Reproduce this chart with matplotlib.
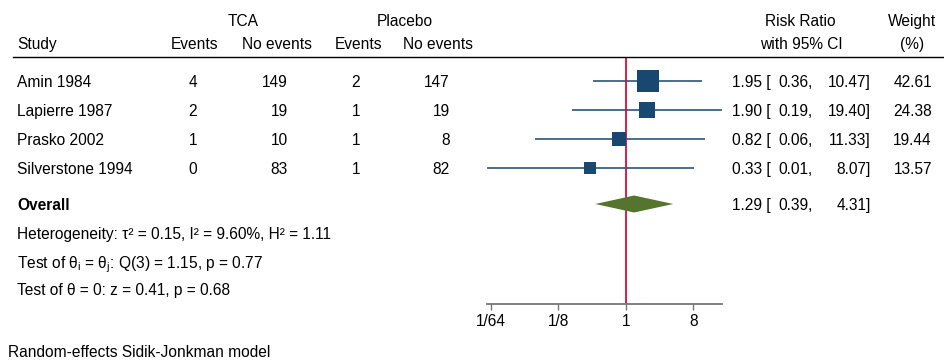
import matplotlib
matplotlib.use("Agg")
import matplotlib.pyplot as plt
from matplotlib.ticker import FixedLocator, FixedFormatter, NullLocator

plt.rcParams['font.family'] = ['Liberation Sans', 'DejaVu Sans']
plt.rcParams['mathtext.fontset'] = 'custom'
plt.rcParams['mathtext.rm'] = 'Liberation Sans'
plt.rcParams['mathtext.it'] = 'Liberation Sans'
plt.rcParams['mathtext.default'] = 'regular'

# ---------------- data ----------------
studies = ["Amin 1984", "Lapierre 1987", "Prasko 2002", "Silverstone 1994"]
tca_events = [4, 2, 1, 0]
tca_noevents = [149, 19, 10, 83]
pla_events = [2, 1, 1, 1]
pla_noevents = [147, 19, 8, 82]
rr = [1.95, 1.90, 0.82, 0.33]
ci_low = [0.36, 0.19, 0.06, 0.0138]
ci_high = [10.47, 19.40, 11.33, 8.07]
weights = [42.61, 24.38, 19.44, 13.57]
overall_rr = 1.29
overall_low = 0.39
overall_high = 4.31
tick_values = [1/64, 1/8, 1, 8]
tick_labels = ["1/64", "1/8", "1", "8"]
het_text = "Heterogeneity: τ² = 0.15, I² = 9.60%, H² = 1.11"
test1_text = r"Test of θ$_{i}$ = θ$_{j}$: Q(3) = 1.15, p = 0.77"
test2_text = "Test of θ = 0: z = 0.41, p = 0.68"
footer = "Random-effects Sidik-Jonkman model"

# ---------------- layout ----------------
W, H = 945, 361
fig = plt.figure(figsize=(W / 100, H / 100), dpi=100)
fig.patch.set_facecolor("white")

def fx(x):
    return x / W

def fy(y):
    return 1 - y / H

FS = 11.2
NAVY = "#1a476f"
GREEN = "#55752f"
RED = "#d0103a"

def txt(x, y, s, ha="left", **kw):
    fig.text(fx(x), fy(y), s, ha=ha, va="center_baseline", fontsize=FS, color="black", **kw)

# row pixel positions
row_y = [81, 110, 139, 168]
overall_y = 204
het_y = [233, 261, 289]

# headers
txt(243, 20, "TCA", ha="center")
txt(405, 20, "Placebo", ha="center")
txt(800, 20, "Risk Ratio", ha="center")
txt(912, 20, "Weight", ha="center")
txt(17, 43, "Study")
txt(195, 43, "Events", ha="center")
txt(312, 43, "No events", ha="right")
txt(358, 43, "Events", ha="center")
txt(473, 43, "No events", ha="right")
txt(801, 43, "with 95% CI", ha="center")
txt(912, 43, "(%)", ha="center")

# header rule
fig.add_artist(plt.Line2D([fx(13), fx(945)], [fy(57), fy(57)], color="black", lw=1.0))

# study rows
for i, name in enumerate(studies):
    y = row_y[i]
    txt(17, y, name)
    txt(193, y, str(tca_events[i]), ha="center")
    txt(288, y, str(tca_noevents[i]), ha="right")
    txt(356, y, str(pla_events[i]), ha="center")
    txt(450, y, str(pla_noevents[i]), ha="right")
    txt(732, y, f"{rr[i]:.2f} [")
    txt(813, y, f"{ci_low[i]:.2f},", ha="right")
    txt(871, y, f"{ci_high[i]:.2f}]", ha="right")
    txt(932, y, f"{weights[i]:.2f}", ha="right")

txt(17, overall_y, "Overall", fontweight="bold")
txt(732, overall_y, f"{overall_rr:.2f} [")
txt(813, overall_y, f"{overall_low:.2f},", ha="right")
txt(871, overall_y, f"{overall_high:.2f}]", ha="right")

txt(17, het_y[0], het_text)
txt(17, het_y[1], test1_text)
txt(17, het_y[2], test2_text)
txt(8, 351, footer)

# ---------------- forest axes ----------------
ax_left, ax_right = 487, 722
ax_top, ax_bot = 57, 304
ax = fig.add_axes([fx(ax_left), fy(ax_bot), fx(ax_right - ax_left), (ax_bot - ax_top) / H])
ax.set_xscale("log", base=2)
ax.set_xlim(min(ci_low), max(ci_high))
# y in pixel-row units of the layout (inverted)
ax.set_ylim(ax_bot, ax_top)
ax.patch.set_alpha(0)
for s in ["top", "right", "left"]:
    ax.spines[s].set_visible(False)
ax.spines["bottom"].set_color("#777777")
ax.spines["bottom"].set_linewidth(1.3)
ax.yaxis.set_major_locator(NullLocator())
ax.xaxis.set_major_locator(FixedLocator(tick_values))
ax.xaxis.set_major_formatter(FixedFormatter(tick_labels))
ax.xaxis.set_minor_locator(NullLocator())
ax.tick_params(axis="x", direction="out", length=4, width=1.0, color="#777777",
               labelsize=FS, pad=3)

# null line
ax.axvline(1, color=RED, lw=1.3, zorder=2)

# CIs and squares
for i in range(len(studies)):
    ax.plot([ci_low[i], ci_high[i]], [row_y[i]] * 2, color=NAVY, lw=1.1, zorder=1,
            solid_capstyle="butt")
    side_pt = 3.3 * weights[i] ** 0.5 * 0.72
    ax.plot([rr[i]], [row_y[i]], marker="s", ms=side_pt, color=NAVY, mec=NAVY,
            mew=0, zorder=3, linestyle="none")

# overall diamond
dh = 8.5
ax.fill([overall_low, overall_rr, overall_high, overall_rr],
        [overall_y, overall_y - dh, overall_y, overall_y + dh],
        color=GREEN, lw=0, zorder=3)

fig.savefig("out.png", dpi=100, facecolor="white")
